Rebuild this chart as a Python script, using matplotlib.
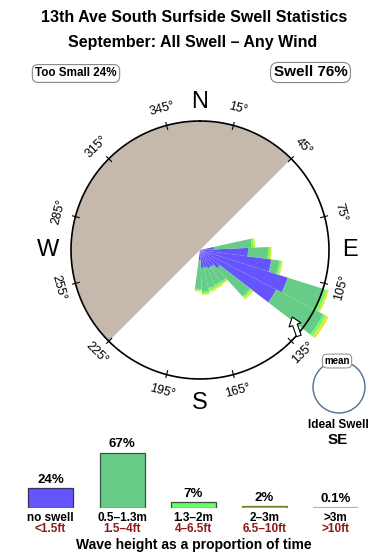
import numpy as np
import matplotlib
matplotlib.use('Agg')
import matplotlib.pyplot as plt
from matplotlib.patches import Circle

plt.rcParams['font.family'] = ['Liberation Sans', 'DejaVu Sans']

# ---------------- data ----------------
title = "13th Ave South Surfside Swell Statistics"
subtitle = "September: All Swell \u2013 Any Wind"
too_small_label = "Too Small 24%"
swell_label = "Swell 76%"

# swell rose: direction bins (compass degrees, bin centres, 10 deg wide)
dir_centers = [82.5, 92.5, 102.5, 112.5, 122.5, 132.5, 142.5, 152.5, 162.5, 172.5, 182.5]
# radial length of each height class in each direction bin (circle = 129)
rose_none = [14, 48, 72, 92, 86, 25, 20, 20, 18, 18, 10]
rose_small = [38, 20, 8, 38, 53, 38, 18, 18, 21, 24, 29]
rose_mid = [2, 2, 2, 3, 3, 2, 2, 2, 2, 2, 1.5]
rose_big = [1.5, 1.5, 1.5, 2, 3, 2, 1, 2, 2, 1, 1]
rose_circle = 129
too_small_sector = (225, 405)   # shaded wind-shadow sector (deg)
mean_dir_tail = (131, 131)      # (deg, r)
mean_dir_tip = (126, 114)

deg_ticks = [15, 45, 75, 105, 135, 165, 195, 225, 255, 285, 315, 345]
cardinals = ["N", "E", "S", "W"]
cardinal_deg = [0, 90, 180, 270]

# legend
legend_pct = [24, 67, 7, 2, 0.1]
legend_pct_text = ["24%", "67%", "7%", "2%", "0.1%"]
legend_m = ["no swell", "0.5\u20131.3m", "1.3\u20132m", "2\u20133m", ">3m"]
legend_ft = ["<1.5ft", "1.5\u20134ft", "4\u20136.5ft", "6.5\u201310ft", ">10ft"]
legend_caption = "Wave height as a proportion of time"
ideal_label = "Ideal Swell"
ideal_dir = "SE"

# ---------------- style ----------------
c_none = '#6655ff'
c_small = '#66cc88'
c_mid = '#66ff66'
c_big = '#e6e633'
c_huge = '#b8aca4'
c_shade = '#c5b9ad'
c_red = '#8b1a1a'

fig = plt.figure(figsize=(3.9, 5.6), dpi=100)

# background overlay axes, 1 unit = 1 pixel
bg = fig.add_axes([0, 0, 1, 1])
bg.set_xlim(0, 390)
bg.set_ylim(560, 0)
bg.axis('off')

bg.text(194, 17, title, ha='center', va='center', fontsize=11.5, fontweight='bold')
bg.text(193, 42, subtitle, ha='center', va='center', fontsize=11.5, fontweight='bold')
bg.text(76, 73.5, too_small_label, ha='center', va='center', fontsize=8.4, fontweight='bold',
        bbox=dict(boxstyle='round,pad=0.25,rounding_size=0.5', fc='white', ec='#888888', lw=0.8))
bg.text(310.5, 72.5, swell_label, ha='center', va='center', fontsize=11, fontweight='bold',
        bbox=dict(boxstyle='round,pad=0.2,rounding_size=0.5', fc='white', ec='#888888', lw=0.8))

# mean / ideal swell circle
bg.add_patch(Circle((339, 387), 26, fill=False, ec='#4a6f96', lw=1.0))
bg.text(337, 361, "mean", ha='center', va='center', fontsize=7, fontweight='bold',
        bbox=dict(boxstyle='round,pad=0.2,rounding_size=0.5', fc='white', ec='#888888', lw=0.7))
bg.text(338, 425, ideal_label, ha='center', va='center', fontsize=8.5, fontweight='bold')
bg.text(338, 440, ideal_dir, ha='center', va='center', fontsize=11, fontweight='bold')

# ---------------- rose ----------------
pax = fig.add_axes([50 / 390, 160 / 560, 300 / 390, 300 / 560], projection='polar')
pax.set_theta_zero_location('N')
pax.set_theta_direction(-1)
pax.set_ylim(0, 150)
pax.axis('off')

s0, s1 = too_small_sector
pax.bar(np.deg2rad((s0 + s1) / 2), rose_circle, width=np.deg2rad(s1 - s0), bottom=0,
        color=c_shade, lw=0, zorder=1)

th = np.deg2rad(dir_centers)
w = np.deg2rad(10)
b0 = np.zeros(len(dir_centers))
for vals, col in [(rose_none, c_none), (rose_small, c_small), (rose_mid, c_mid), (rose_big, c_big)]:
    v = np.array(vals, dtype=float)
    pax.bar(th, v, width=w, bottom=b0, color=col, lw=0, zorder=3)
    b0 = b0 + v

tt = np.linspace(0, 2 * np.pi, 500)
pax.plot(tt, np.full_like(tt, rose_circle), color='black', lw=1.2, zorder=4)

for a in deg_ticks:
    t = np.deg2rad(a)
    pax.plot([t, t], [rose_circle - 4, rose_circle + 3], color='black', lw=0.8, zorder=4)
    d = ((a + 180) % 360) - 180
    rot = -d if abs(d) <= 90 else 180 - d
    pax.text(t, 146, f"{a}\u00b0", ha='center', va='center', fontsize=9,
             rotation=rot, rotation_mode='anchor')

for lab, a in zip(cardinals, cardinal_deg):
    r = {"N": 148, "E": 150, "S": 153, "W": 152}[lab]
    pax.text(np.deg2rad(a), r, lab, ha='center', va='center', fontsize=17)

pax.annotate('', xy=(np.deg2rad(mean_dir_tip[0]), mean_dir_tip[1]),
             xytext=(np.deg2rad(mean_dir_tail[0]), mean_dir_tail[1]),
             arrowprops=dict(arrowstyle='simple,head_length=0.6,head_width=0.9,tail_width=0.35',
                             fc='white', ec='black', lw=0.8, shrinkA=0, shrinkB=0),
             zorder=6, annotation_clip=False)

# ---------------- legend bars ----------------
lax = fig.add_axes([0, (560 - 508) / 560, 1, 70 / 560])
lax.set_xlim(0, 390)
lax.set_ylim(0, 70 / 0.82)
lax.axis('off')
xs = [50.5, 122, 193.5, 264.5, 335.5]
cols = [c_none, c_small, c_mid, '#cccc33', c_huge]
ecs = ['#333355', '#335544', '#335533', '#777722', c_huge]
lax.bar(xs, legend_pct, width=45, color=cols, edgecolor=ecs, lw=[0.9, 0.9, 0.9, 0.9, 1.6])
for x, p, t in zip(xs, legend_pct, legend_pct_text):
    lax.annotate(t, (x, p), xytext=(0, 6.3), textcoords='offset points',
                 ha='center', va='center', fontsize=9.5, fontweight='bold')

for x, m, f in zip(xs, legend_m, legend_ft):
    bg.text(x, 518, m, ha='center', va='center', fontsize=8.5, fontweight='bold')
    bg.text(x, 528.5, f, ha='center', va='center', fontsize=8.5, fontweight='bold', color=c_red)
bg.text(194, 545, legend_caption, ha='center', va='center', fontsize=10, fontweight='bold')

fig.savefig('out.png', dpi=100)
